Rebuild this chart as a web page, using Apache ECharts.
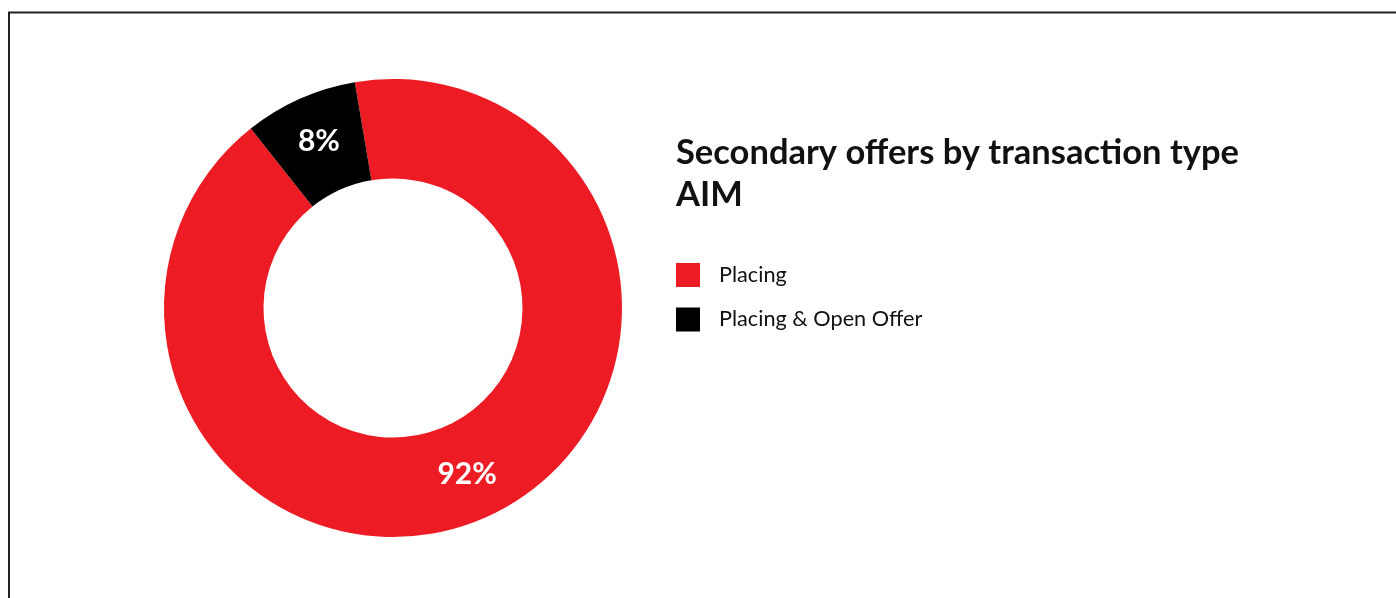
<!DOCTYPE html>
<html>
<head>
<meta charset="utf-8">
<title>Secondary offers by transaction type AIM</title>
<script src="https://cdn.jsdelivr.net/npm/echarts@6/dist/echarts.min.js"></script>
<style>
  html, body { margin: 0; padding: 0; background: #fff; overflow: hidden; }
  #chart { width: 1396px; height: 598px; }
</style>
</head>
<body>
<div id="chart"></div>
<script>
// data
const categories = ['Placing', 'Placing & Open Offer']
const shares = [92, 8]
const colors = ['#ED1C24', '#000000']

const chart = echarts.init(document.getElementById('chart'))

const option = {
  animation: false,
  color: colors,
  textStyle: { fontFamily: 'Lato' },
  // left/top frame line of the embedded figure
  graphic: [{
    type: 'polyline',
    silent: true,
    shape: { points: [[9, 600], [9, 12.5], [1400, 12.5]] },
    style: { fill: null, stroke: '#222', lineWidth: 2 }
  }],
  title: {
    text: 'Secondary offers by transaction type\nAIM',
    left: 671,
    top: 127,
    textStyle: {
      fontFamily: 'Lato',
      fontWeight: 'bold',
      fontSize: 34.5,
      lineHeight: 42,
      color: '#111'
    }
  },
  legend: {
    orient: 'vertical',
    left: 671,
    top: 258,
    itemWidth: 24,
    itemHeight: 24,
    itemGap: 20.5,
    icon: 'rect',
    selectedMode: false,
    data: categories,
    textStyle: {
      fontFamily: 'Lato',
      fontSize: 21.7,
      color: '#111',
      padding: [0, 0, 0, 14]
    }
  },
  series: [{
    type: 'pie',
    center: [393, 308],
    radius: [129.5, 229],
    startAngle: 99.6,
    clockwise: true,
    avoidLabelOverlap: false,
    silent: true,
    label: {
      show: true,
      position: 'inside',
      formatter: '{d}%',
      color: '#fff',
      fontFamily: 'Lato',
      fontWeight: 'bold',
      fontSize: 30
    },
    labelLine: { show: false },
    itemStyle: { borderWidth: 0 },
    data: categories.map((name, i) => ({ name: name, value: shares[i] }))
  }]
}

chart.setOption(option)
</script>
</body>
</html>
